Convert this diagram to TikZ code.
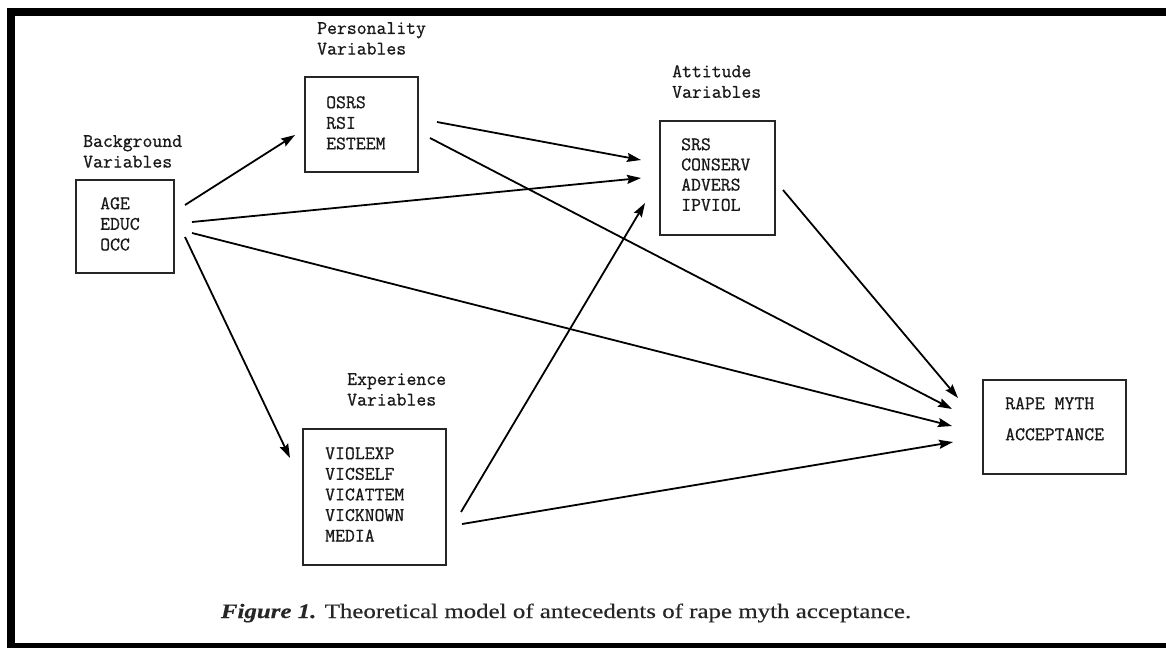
\documentclass[tikz,border=0pt]{standalone}
\usepackage{fontspec}
\setmainfont{Liberation Serif}
\newfontfamily\capfont[FakeStretch=1.215,FakeBold=0.4]{Liberation Serif}
\newfontfamily\twfont[FakeBold=0.8]{Latin Modern Mono}
\usetikzlibrary{arrows.meta}
\tikzset{
  tw/.style={font=\twfont\fontsize{19.2}{20.6}\selectfont, anchor=north west, inner sep=0pt, align=left, text=black!90},
  varbox/.style={draw=black!85, line width=1.4pt, inner sep=0pt},
  conn/.style={line width=1.8pt, -{Stealth[length=14pt, width=9pt, inset=2pt]}},
}
\begin{document}
\begin{tikzpicture}[x=1pt,y=-1pt]
\useasboundingbox (0,0) rectangle (1166,648);
% frame
\fill[black] (7,8) rectangle (1166,16);
\fill[black] (7,8) rectangle (15,648);
\fill[black] (7,643) rectangle (1166,648);

% boxes
\node[varbox, minimum width=98pt, minimum height=93pt] (bg) at (125,226.5) {};
\node[varbox, minimum width=113pt, minimum height=95pt] (pers) at (361.5,124.5) {};
\node[varbox, minimum width=115pt, minimum height=114pt] (att) at (717.5,178) {};
\node[varbox, minimum width=143pt, minimum height=136pt] (exp) at (374.5,497) {};
\node[varbox, minimum width=143pt, minimum height=94pt] (rma) at (1054.5,427) {};

% labels
\node[tw] (bglab) at (83,135) {Background\\Variables};
\node[tw] (perslab) at (317,22) {Personality\\Variables};
\node[tw] (attlab) at (672,65) {Attitude\\Variables};
\node[tw] (explab) at (347,373) {Experience\\Variables};

% contents
\node[tw] (bgtxt) at (100,197) {AGE\\EDUC\\OCC};
\node[tw] (perstxt) at (326,96) {OSRS\\RSI\\ESTEEM};
\node[tw, font=\twfont\fontsize{19.2}{20.2}\selectfont] (atttxt) at (681,138) {SRS\\CONSERV\\ADVERS\\IPVIOL};
\node[tw] (exptxt) at (325,447) {VIOLEXP\\VICSELF\\VICATTEM\\VICKNOWN\\MEDIA};
\node[tw, font=\twfont\fontsize{19.2}{31}\selectfont] (rmatxt) at (1005,397) {RAPE MYTH\\ACCEPTANCE};

% connector end points
\coordinate (bgA) at (185,205);
\coordinate (bgB) at (192,222);
\coordinate (bgC) at (192,233);
\coordinate (bgD) at (185,237);
\coordinate (persA) at (437,122);
\coordinate (persB) at (430,138);
\coordinate (expA) at (461,512);
\coordinate (expB) at (462,524);
\coordinate (attA) at (783,190);
\coordinate (persIn) at (295,135);
\coordinate (attIn1) at (641,160);
\coordinate (attIn2) at (641,178);
\coordinate (attIn3) at (645,203);
\coordinate (expIn) at (290,458);
\coordinate (rmaIn1) at (958,398);
\coordinate (rmaIn2) at (952,409);
\coordinate (rmaIn3) at (952,426);
\coordinate (rmaIn4) at (953,442);

\draw[conn] (bgA) -- (persIn);
\draw[conn] (bgB) -- (attIn2);
\draw[conn] (bgC) -- (rmaIn3);
\draw[conn] (bgD) -- (expIn);
\draw[conn] (persA) -- (attIn1);
\draw[conn] (persB) -- (rmaIn2);
\draw[conn] (expA) -- (attIn3);
\draw[conn] (expB) -- (rmaIn4);
\draw[conn] (attA) -- (rmaIn1);

% caption
\node[anchor=base, inner sep=0pt, font=\capfont\fontsize{20.5}{24}\selectfont, text=black!85] (cap) at (566,618)
  {{\bfseries\itshape Figure 1.} Theoretical model of antecedents of rape myth acceptance.};
\end{tikzpicture}
\end{document}
